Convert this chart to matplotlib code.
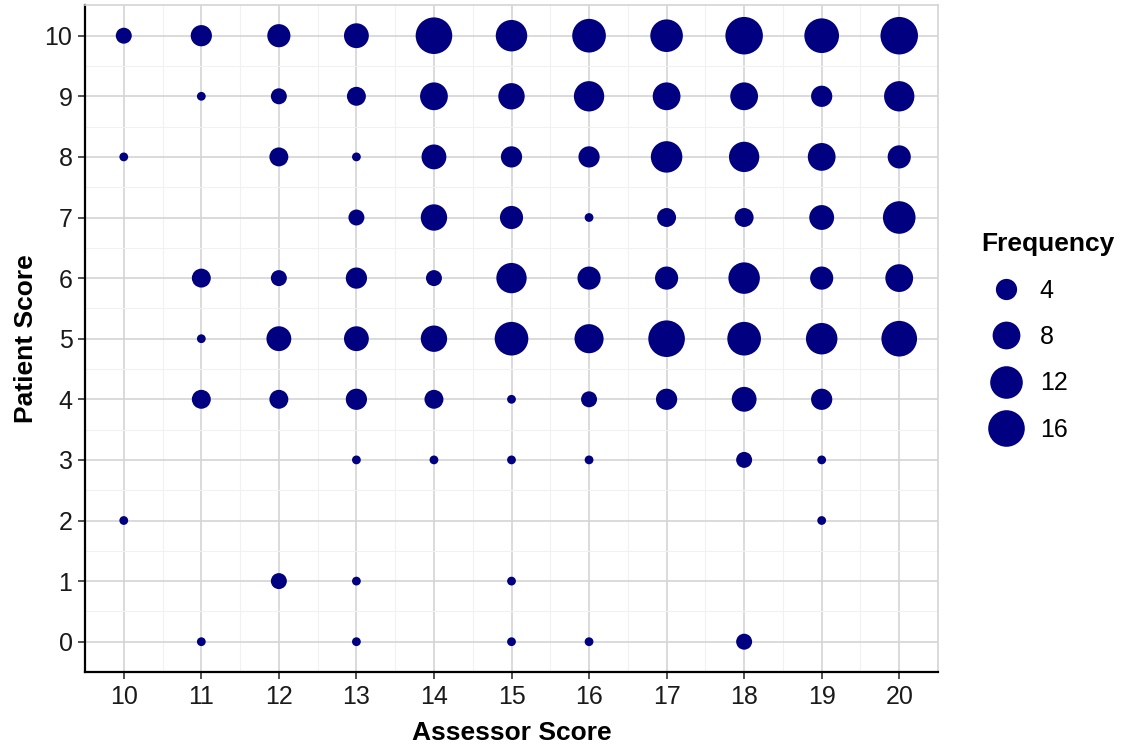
import matplotlib
matplotlib.use("Agg")
import matplotlib.pyplot as plt
import numpy as np
from matplotlib.lines import Line2D

plt.rcParams["font.family"] = ["Liberation Sans", "DejaVu Sans"]

assessor_scores = list(range(10, 21))
patient_scores = list(range(0, 11))

# frequency per assessor score (10..20), one list per patient score; 0 = no point
freq_p10 = [2, 4, 5, 6, 16, 11, 13, 12, 17, 14, 17]
freq_p9 = [0, 1, 2, 3, 8, 7, 10, 8, 8, 4, 10]
freq_p8 = [1, 0, 3, 1, 6, 4, 4, 11, 10, 8, 5]
freq_p7 = [0, 0, 0, 2, 7, 5, 1, 3, 3, 6, 12]
freq_p6 = [0, 3, 2, 4, 2, 10, 5, 5, 11, 5, 8]
freq_p5 = [0, 1, 6, 6, 7, 13, 9, 16, 13, 11, 15]
freq_p4 = [0, 3, 3, 4, 3, 1, 2, 4, 6, 4, 0]
freq_p3 = [0, 0, 0, 1, 1, 1, 1, 0, 2, 1, 0]
freq_p2 = [1, 0, 0, 0, 0, 0, 0, 0, 0, 1, 0]
freq_p1 = [0, 0, 2, 1, 0, 1, 0, 0, 0, 0, 0]
freq_p0 = [0, 1, 0, 1, 0, 1, 1, 0, 2, 0, 0]

legend_breaks = [4, 8, 12, 16]

counts = np.array([freq_p0, freq_p1, freq_p2, freq_p3, freq_p4, freq_p5,
                   freq_p6, freq_p7, freq_p8, freq_p9, freq_p10])

DPI = 100
VMIN, VMAX = 1, counts.max()


def marker_area(v):
    # ggplot-like scale_size: size = 1 + 5 * sqrt(rescaled value), diameter linear in size
    v = np.asarray(v, dtype=float)
    size = 1 + 5 * np.sqrt((v - VMIN) / (VMAX - VMIN))
    d_px = 5.74 * size + 3.06
    d_pt = d_px * 72 / DPI
    return d_pt ** 2


xx, yy = np.meshgrid(assessor_scores, patient_scores)
mask = counts > 0

fig = plt.figure(figsize=(11.28, 7.54), dpi=DPI)
ax = fig.add_axes([85 / 1128, 1 - 672 / 754, (938 - 85) / 1128, (672 - 5.4) / 754])

ax.scatter(xx[mask], yy[mask], s=marker_area(counts[mask]), color="navy",
           edgecolors="none", zorder=3)

ax.set_xlim(9.5, 20.5)
ax.set_ylim(-0.5, 10.5)
ax.set_xticks(assessor_scores)
ax.set_yticks(patient_scores)
ax.set_xticks(np.arange(10.5, 20, 1), minor=True)
ax.set_yticks(np.arange(0.5, 10, 1), minor=True)
ax.grid(True, which="major", color="#d4d4d4", linewidth=1.2, zorder=0)
ax.grid(True, which="minor", color="#f1f1f1", linewidth=0.8, zorder=0)
ax.set_axisbelow(True)

for side in ["top", "right"]:
    ax.spines[side].set_color("#d4d4d4")
    ax.spines[side].set_linewidth(1.2)
for side in ["left", "bottom"]:
    ax.spines[side].set_color("black")
    ax.spines[side].set_linewidth(1.6)

ax.tick_params(axis="both", which="major", length=5, width=1.2, color="#333333",
               labelsize=18, labelcolor="#1a1a1a", pad=4)
ax.tick_params(axis="both", which="minor", length=0)

ax.set_xlabel("Assessor Score", fontsize=19, fontweight="bold", labelpad=9)
ax.set_ylabel("Patient Score", fontsize=19, fontweight="bold", labelpad=5)

handles = [Line2D([], [], linestyle="none", marker="o", color="navy",
                  markeredgewidth=0, markersize=np.sqrt(marker_area(b)))
           for b in legend_breaks]
leg = fig.legend(handles, [str(b) for b in legend_breaks], title="Frequency",
                 loc="upper left", bbox_to_anchor=(976 / 1128, 1 - 227 / 754),
                 frameon=False, fontsize=18, title_fontproperties={"size": 19, "weight": "bold"},
                 labelspacing=0.9, handletextpad=0.35, borderpad=0.2, borderaxespad=0)
leg._legend_box.align = "left"

fig.savefig("out.png", dpi=DPI)
